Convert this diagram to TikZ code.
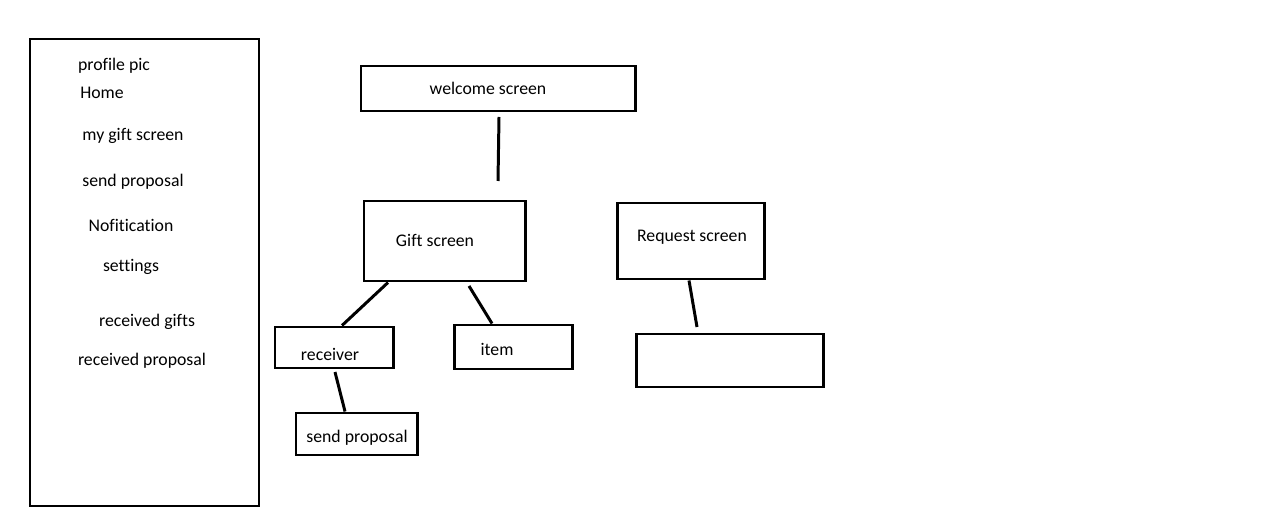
\documentclass[tikz,border=0pt]{standalone}
\usepackage{fontspec}
\setmainfont[Ligatures=NoCommon]{Carlito}

\begin{document}
\begin{tikzpicture}[x=0.02cm, y=-0.02cm,
  box/.style={draw, line width=1.7pt, rectangle, inner sep=0pt},
  lbl/.style={inner sep=0pt, font=\fontsize{10.1}{12}\selectfont},
  wire/.style={line width=1.7pt}]
\useasboundingbox (0,0) rectangle (1280,526);
% side menu
\draw[line width=1.7pt] (30,39) rectangle (259,506);
\node[lbl] (pic) at (114,66) {profile pic};
\node[lbl] (home) at (102,93) {Home};
\node[lbl] (mygift) at (133,136) {my gift screen};
\node[lbl] (sendm) at (133,182) {send proposal};
\node[lbl] (notif) at (131,225) {Nofitication};
\node[lbl] (sett) at (131,267) {settings};
\node[lbl] (rgifts) at (147,322) {received gifts};
\node[lbl] (rprop) at (142,361) {received proposal};
% boxes
\node[box, minimum width=274*0.02cm, minimum height=45*0.02cm] (welcome) at (498,88.5) {};
\node[lbl] (welcomet) at (488,88) {welcome screen};
\node[box, minimum width=161*0.02cm, minimum height=80*0.02cm] (gift) at (444.5,241) {};
\node[lbl] (giftt) at (435,240) {Gift screen};
\node[box, minimum width=147*0.02cm, minimum height=76*0.02cm] (request) at (690.5,241) {};
\node[lbl] (requestt) at (692,237) {Request screen};
\node[box, minimum width=118*0.02cm, minimum height=41*0.02cm] (receiver) at (334,347.5) {};
\node[lbl] (receivert) at (330,354) {receiver};
\node[box, minimum width=118*0.02cm, minimum height=44*0.02cm] (item) at (513,347) {};
\node[lbl] (itemt) at (497,349) {item};
\node[box, minimum width=121*0.02cm, minimum height=42*0.02cm] (send) at (356.5,434) {};
\node[lbl] (sendt) at (357,438) {send proposal};
\node[box, minimum width=187*0.02cm, minimum height=53*0.02cm] (empty) at (729.5,360.5) {};
% connectors
\coordinate (w1) at (499,117);
\coordinate (w2) at (498,181);
\draw[wire] (w1) -- (w2);
\draw[wire] (gift.south -| 388,0) -- (receiver.north -| 342,0);
\draw[wire] (469,286) -- (item.north -| 492,0);
\draw[wire] (335,372) -- (send.north -| 345,0);
\draw[wire] (request.south -| 689,0) -- (697,327);
\end{tikzpicture}
\end{document}
